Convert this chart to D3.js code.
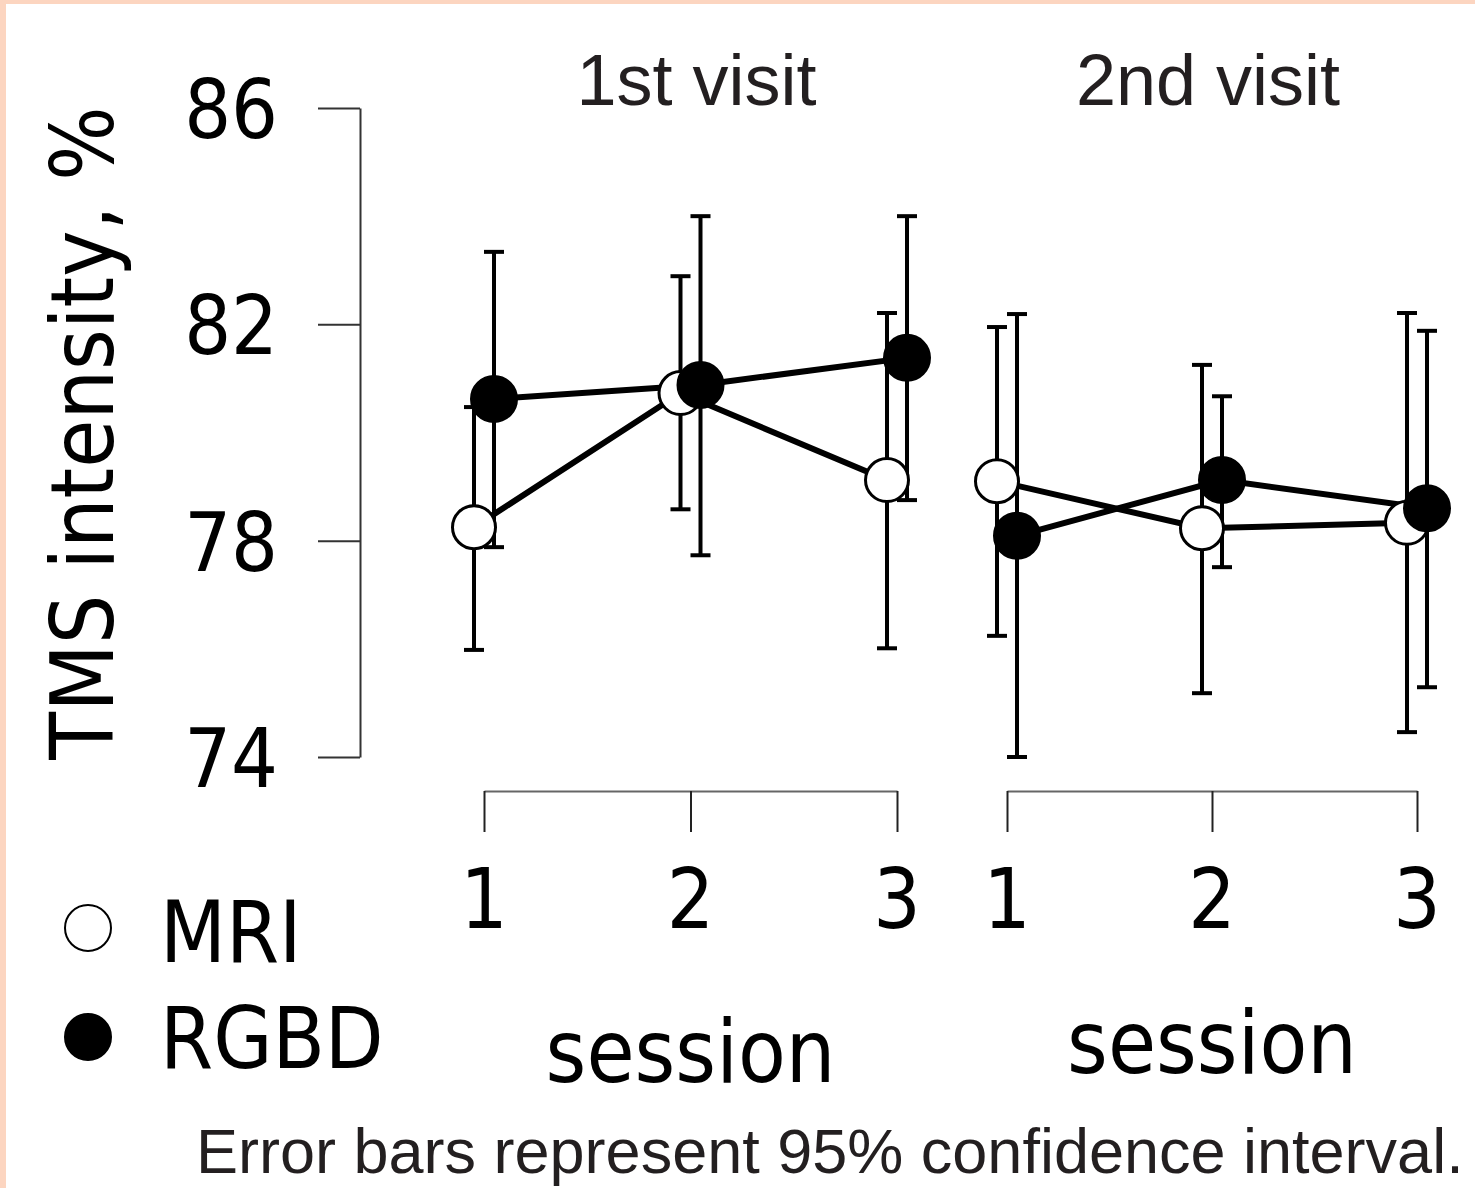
<!DOCTYPE html>
<html>
<head>
<meta charset="utf-8">
<script src="https://cdn.jsdelivr.net/npm/d3@7"></script>
<style>
  body { margin: 0; background: #ffffff; }
  svg { display: block; }
  .cond { font-family: "DejaVu Sans Condensed", "DejaVu Sans", sans-serif; font-stretch: condensed; }
  .helv { font-family: "Liberation Sans", Arial, sans-serif; }
</style>
</head>
<body>
<div id="plot"></div>
<script>
// Chart data
const sessions = ["1", "2", "3"];
const visits = ["1st visit", "2nd visit"];
const yTicks = [74, 78, 82, 86];

// 1st visit
const mriMean1 = [78.25, 80.73, 79.12];
const mriLo1 = [75.98, 78.58, 76.01];
const mriHi1 = [80.47, 82.89, 82.21];
const rgbdMean1 = [80.62, 80.88, 81.38];
const rgbdLo1 = [77.88, 77.73, 78.75];
const rgbdHi1 = [83.34, 84.0, 84.0];

// 2nd visit
const mriMean2 = [79.1, 78.23, 78.33];
const mriLo2 = [76.24, 75.18, 74.46];
const mriHi2 = [81.95, 81.25, 82.21];
const rgbdMean2 = [78.09, 79.12, 78.6];
const rgbdLo2 = [74.0, 77.51, 75.29];
const rgbdHi2 = [82.19, 80.67, 81.88];

const W = 1475, H = 1188;

const svg = d3.select("#plot")
    .append("svg")
    .attr("width", W)
    .attr("height", H);

// peach frame on top and left
svg.append("rect").attr("width", W).attr("height", H).attr("fill", "#fcd5c0");
svg.append("rect").attr("x", 6).attr("y", 4).attr("width", W - 6).attr("height", H - 4).attr("fill", "#ffffff");

// Scales
const y = d3.scaleLinear().domain([74, 86]).range([757, 108]);
const xVisit = [
    d3.scalePoint().domain(sessions).range([484, 897]),
    d3.scalePoint().domain(sessions).range([1007, 1417])
];
const dodge = 10;

// Y axis
const yAxis = svg.append("g")
    .attr("transform", "translate(360,0)")
    .call(d3.axisLeft(y).tickValues(yTicks).tickSize(42).tickPadding(40).tickSizeOuter(0));
yAxis.select(".domain").attr("stroke", "#333").attr("stroke-width", 2);
yAxis.selectAll(".tick line").attr("stroke", "#333").attr("stroke-width", 2);
yAxis.selectAll(".tick text")
    .attr("class", "cond")
    .attr("fill", "black")
    .attr("dy", "0.36em")
    .style("font-size", "82px");

// Y axis title
svg.append("text")
    .attr("class", "cond")
    .attr("transform", "translate(113,433) rotate(-90)")
    .attr("text-anchor", "middle")
    .style("font-size", "87px")
    .attr("fill", "black")
    .text("TMS intensity, %");

// Bracket x axes, one per visit
const sessionBaseline = [1082, 1073];
xVisit.forEach((x, vi) => {
    const g = svg.append("g")
        .attr("transform", "translate(0,791)")
        .call(d3.axisTop(x).tickSize(-41).tickSizeOuter(0).tickFormat(""));
    g.select(".domain").attr("stroke", "#666").attr("stroke-width", 2);
    g.selectAll(".tick line").attr("stroke", "#222").attr("stroke-width", 2);

    svg.selectAll(null)
        .data(sessions)
        .enter()
        .append("text")
        .attr("class", "cond")
        .attr("x", d => x(d))
        .attr("y", 928)
        .attr("text-anchor", "middle")
        .style("font-size", "83px")
        .text(d => d);

    svg.append("text")
        .attr("class", "cond")
        .attr("x", (x.range()[0] + x.range()[1]) / 2)
        .attr("y", sessionBaseline[vi])
        .attr("text-anchor", "middle")
        .style("font-size", "87px")
        .text("session");

    // visit title
    svg.append("text")
        .attr("class", "helv")
        .attr("x", (x.range()[0] + x.range()[1]) / 2 + (vi === 0 ? 6 : -4))
        .attr("y", 105)
        .attr("text-anchor", "middle")
        .attr("fill", "#231f20")
        .style("font-size", "72px")
        .text(visits[vi]);
});

// Build series per visit
const groups = [
    { mri: { m: mriMean1, lo: mriLo1, hi: mriHi1 }, rgbd: { m: rgbdMean1, lo: rgbdLo1, hi: rgbdHi1 } },
    { mri: { m: mriMean2, lo: mriLo2, hi: mriHi2 }, rgbd: { m: rgbdMean2, lo: rgbdLo2, hi: rgbdHi2 } }
];

function seriesPoints(s, x, off) {
    return sessions.map((d, i) => ({ x: x(d) + off, m: s.m[i], lo: s.lo[i], hi: s.hi[i] }));
}

const layerBars = svg.append("g");
const layerLines = svg.append("g");
const layerMri = svg.append("g");
const layerRgbd = svg.append("g");

const line = d3.line().x(d => d.x).y(d => y(d.m));

groups.forEach((grp, vi) => {
    const x = xVisit[vi];
    const mriPts = seriesPoints(grp.mri, x, -dodge);
    const rgbdPts = seriesPoints(grp.rgbd, x, dodge);

    [mriPts, rgbdPts].forEach(pts => {
        // error bars
        layerBars.selectAll(null).data(pts).enter().append("line")
            .attr("x1", d => d.x).attr("x2", d => d.x)
            .attr("y1", d => y(d.lo)).attr("y2", d => y(d.hi))
            .attr("stroke", "black").attr("stroke-width", 4);
        layerBars.selectAll(null).data(pts).enter().append("line")
            .attr("x1", d => d.x - 10).attr("x2", d => d.x + 10)
            .attr("y1", d => y(d.hi)).attr("y2", d => y(d.hi))
            .attr("stroke", "black").attr("stroke-width", 4);
        layerBars.selectAll(null).data(pts).enter().append("line")
            .attr("x1", d => d.x - 10).attr("x2", d => d.x + 10)
            .attr("y1", d => y(d.lo)).attr("y2", d => y(d.lo))
            .attr("stroke", "black").attr("stroke-width", 4);

        // connecting line
        layerLines.append("path")
            .datum(pts)
            .attr("fill", "none")
            .attr("stroke", "black")
            .attr("stroke-width", 6)
            .attr("d", line);
    });

    layerMri.selectAll(null).data(mriPts).enter().append("circle")
        .attr("cx", d => d.x).attr("cy", d => y(d.m)).attr("r", 21.5)
        .attr("fill", "white").attr("stroke", "black").attr("stroke-width", 3);
    layerRgbd.selectAll(null).data(rgbdPts).enter().append("circle")
        .attr("cx", d => d.x).attr("cy", d => y(d.m)).attr("r", 23)
        .attr("fill", "black").attr("stroke", "black").attr("stroke-width", 2);
});

// Legend
const legend = [
    { label: "MRI", fill: "white", cy: 928, ty: 962 },
    { label: "RGBD", fill: "black", cy: 1037, ty: 1068 }
];
legend.forEach(l => {
    svg.append("circle")
        .attr("cx", 88).attr("cy", l.cy).attr("r", 23)
        .attr("fill", l.fill).attr("stroke", "black").attr("stroke-width", 2);
    svg.append("text")
        .attr("class", "cond")
        .attr("x", 160).attr("y", l.ty)
        .style("font-size", "85px")
        .text(l.label);
});

// Footnote
svg.append("text")
    .attr("class", "helv")
    .attr("x", 196).attr("y", 1173)
    .attr("fill", "#231f20")
    .style("font-size", "63px")
    .text("Error bars represent 95% confidence interval.");
</script>
</body>
</html>
